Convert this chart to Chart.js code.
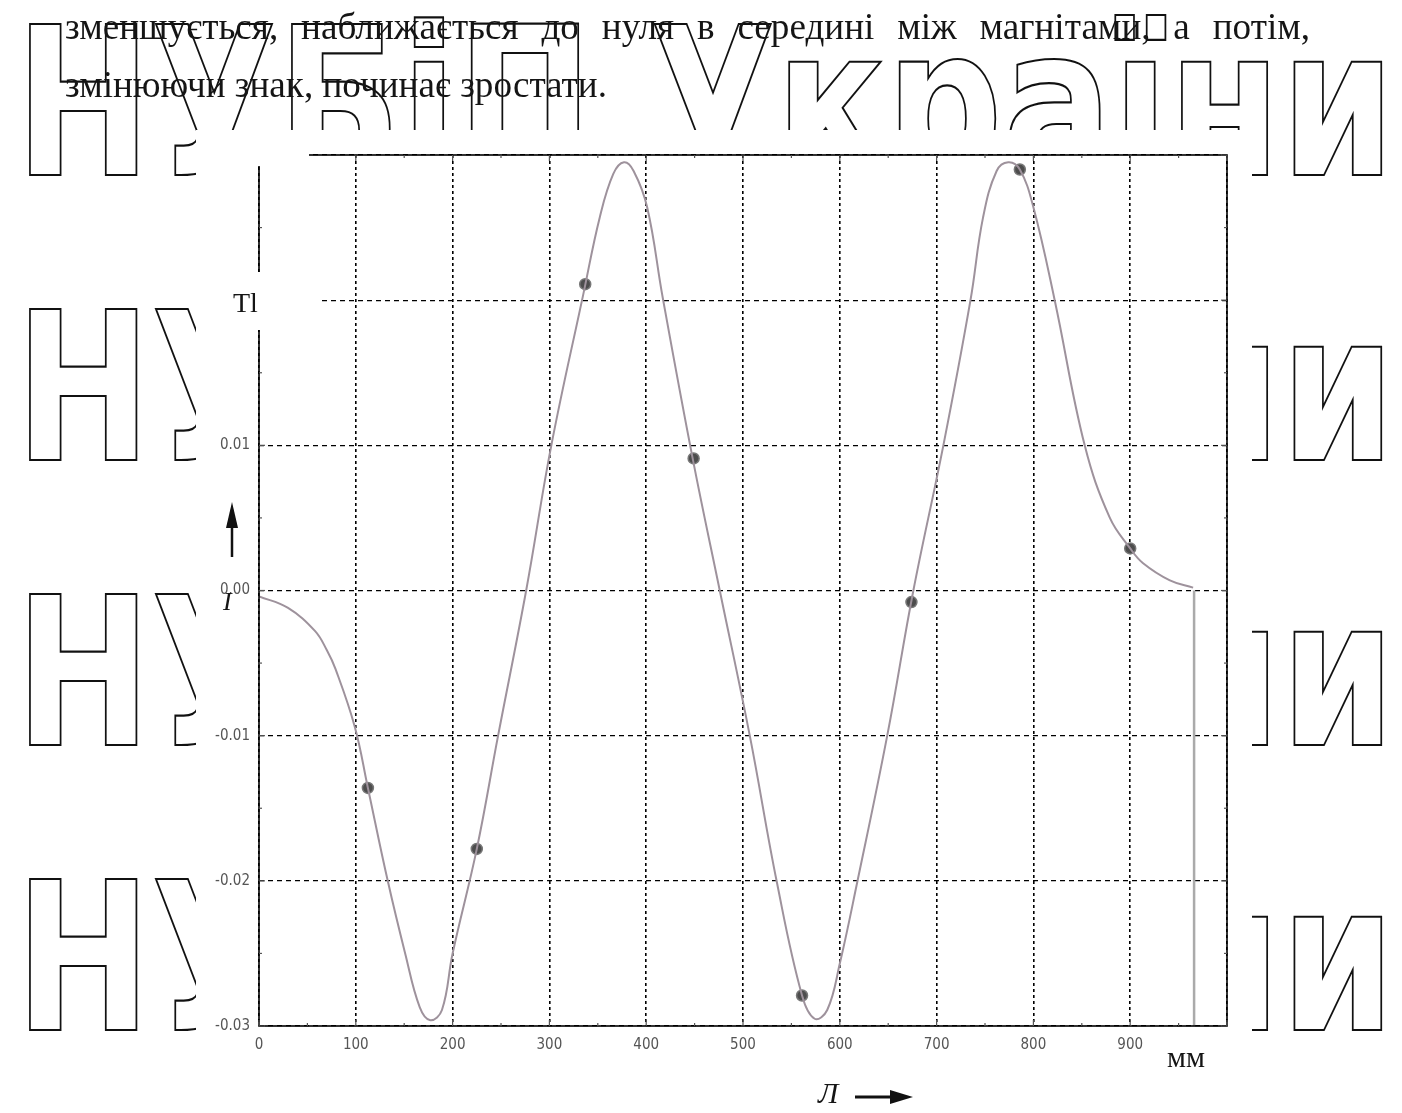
<!DOCTYPE html>
<html lang="uk">
<head>
<meta charset="utf-8">
<title>Індукція поля між магнітами</title>
<script src="https://cdn.jsdelivr.net/npm/chart.js@4.4.1/dist/chart.umd.min.js"></script>
<style>
body { margin: 0; background: #fff; }
#page { position: relative; width: 1402px; height: 1113px; overflow: hidden; }
#plot { position: absolute; left: 0; top: 0; }
.txt { position: absolute; color: #151515; font-family: "Liberation Serif", serif; white-space: nowrap; line-height: 1; }
.para { font-size: 38px; transform-origin: 0 0; }
#line1 { text-align: justify; text-align-last: justify; }
</style>
</head>
<body>
<div id="page">
  <canvas id="plot" width="1402" height="1113"></canvas>
  <div id="line1" class="txt para" style="left:65px; top:7px;">зменшується, наближається до нуля в середині між магнітами, а потім,</div>
  <div id="line2" class="txt para" style="left:65px; top:65px;">змінюючи знак, починає зростати.</div>
  <div class="txt" style="left:233px; top:289px; font-size:28px;">Tl</div>
  <div class="txt" style="left:223px; top:589px; font-size:26px; font-style:italic;">I</div>
  <div class="txt" style="left:1167px; top:1042px; font-size:30px;">мм</div>
  <div class="txt" style="left:818px; top:1078px; font-size:30px; font-style:italic;">Л</div>
</div>
<script>
// field along the gap, mm -> Tl
var curveX = [0, 30, 58, 70, 79, 99, 112.5, 133, 151, 166, 177, 189, 200, 225, 247, 276, 302, 335, 352, 366, 377, 387, 401, 417, 448, 476, 507, 535, 561, 574, 587, 600, 618, 649, 676, 707, 735, 748, 762, 774, 786, 800, 822, 853, 879, 900, 913, 941, 965];
var curveY = [-0.0004, -0.0012, -0.0028, -0.0041, -0.0054, -0.0094, -0.0136, -0.0200, -0.0250, -0.0287, -0.0296, -0.0289, -0.0250, -0.0178, -0.0100, 0.0000, 0.0100, 0.0204, 0.0257, 0.0287, 0.0295, 0.0289, 0.0264, 0.0202, 0.0091, 0.0000, -0.0100, -0.0201, -0.0279, -0.0295, -0.0289, -0.0257, -0.0201, -0.0100, 0.0000, 0.0100, 0.0200, 0.0257, 0.0289, 0.0295, 0.0290, 0.0264, 0.0200, 0.0100, 0.0050, 0.0029, 0.0019, 0.0007, 0.0002];

// measured points
var pointX = [112.5, 225, 337, 449, 561, 674, 786, 900];
var pointY = [-0.0136, -0.0178, 0.0211, 0.0091, -0.0279, -0.0008, 0.0290, 0.0029];

// end of the record
var endX = [966, 966];
var endY = [0, -0.03];

var xGrid = [0, 100, 200, 300, 400, 500, 600, 700, 800, 900, 1000];
var xTickLabels = ['0', '100', '200', '300', '400', '500', '600', '700', '800', '900', ''];
var yGrid = [-0.03, -0.02, -0.01, 0, 0.01, 0.02, 0.03];
var yTickLabels = ['-0.03', '-0.02', '-0.01', '0.00', '0.01', '', ''];

var markText = 'НУБіП України';
var markRows = [175, 460, 745, 1030];

function toPoints(xs, ys) {
    return xs.map(function (x, i) { return { x: x, y: ys[i] }; });
}

function labelFor(grid, labels, v) {
    for (var i = 0; i < grid.length; i++) {
        if (Math.abs(grid[i] - v) < 1e-9) return labels[i];
    }
    return '';
}

// stretch the paragraph lines to their column
(function () {
    var c = document.createElement('canvas').getContext('2d');
    c.font = '38px "Liberation Serif"';
    var w2 = c.measureText(document.getElementById('line2').textContent).width;
    var k = 542 / w2;
    var l1 = document.getElementById('line1');
    var l2 = document.getElementById('line2');
    l1.style.width = (1245 / k) + 'px';
    l1.style.transform = 'scaleX(' + k + ')';
    l2.style.transform = 'scaleX(' + k + ')';
})();

function line(ctx, x1, y1, x2, y2) {
    ctx.beginPath();
    ctx.moveTo(x1, y1);
    ctx.lineTo(x2, y2);
    ctx.stroke();
}

var pagePlugin = {
    id: 'page',
    beforeDraw: function (chart) {
        var ctx = chart.ctx;
        ctx.save();
        ctx.fillStyle = '#fff';
        ctx.fillRect(0, 0, chart.width, chart.height);

        // outlined watermark rows
        ctx.font = 'bold 206px "DejaVu Sans"';
        var w = ctx.measureText(markText).width;
        var sx = 1380 / w;
        ctx.strokeStyle = '#111';
        ctx.lineWidth = 2.2;
        markRows.forEach(function (y) {
            ctx.save();
            ctx.translate(15, y);
            ctx.scale(sx, 1);
            ctx.strokeText(markText, 0, 0);
            ctx.restore();
        });

        // plot sheet
        ctx.fillStyle = '#fff';
        ctx.fillRect(196, 130, 1056, 983);
        ctx.restore();
    },
    afterDraw: function (chart) {
        var ctx = chart.ctx;
        var a = chart.chartArea;
        var xs = chart.scales.x;
        var ys = chart.scales.y;
        ctx.save();

        // frame
        ctx.strokeStyle = '#000';
        ctx.lineWidth = 1.6;
        ctx.strokeRect(a.left, a.top, a.right - a.left, a.bottom - a.top);

        // inner ticks
        ctx.strokeStyle = '#555';
        ctx.lineWidth = 1.2;
        for (var v = 0; v <= 1000; v += 50) {
            var px = xs.getPixelForValue(v);
            var len = v % 100 === 0 ? 6 : 3;
            line(ctx, px, a.bottom, px, a.bottom - len);
            line(ctx, px, a.top, px, a.top + len);
        }
        for (var j = -6; j <= 6; j++) {
            var py = ys.getPixelForValue(j * 0.005);
            var ln = j % 2 === 0 ? 6 : 3;
            line(ctx, a.left, py, a.left + ln, py);
            line(ctx, a.right, py, a.right - ln, py);
        }

        // blank patches on the sheet
        ctx.fillStyle = '#fff';
        ctx.fillRect(200, 138, 109, 28);
        ctx.fillRect(228, 272, 93, 58);

        // axis arrows
        ctx.strokeStyle = '#111';
        ctx.fillStyle = '#111';
        ctx.lineWidth = 2.5;
        line(ctx, 232, 557, 232, 515);
        ctx.beginPath();
        ctx.moveTo(232, 502);
        ctx.lineTo(226, 528);
        ctx.lineTo(238, 528);
        ctx.closePath();
        ctx.fill();

        ctx.lineWidth = 3;
        line(ctx, 855, 1097, 898, 1097);
        ctx.beginPath();
        ctx.moveTo(913, 1097);
        ctx.lineTo(890, 1090);
        ctx.lineTo(890, 1104);
        ctx.closePath();
        ctx.fill();
        ctx.restore();
    }
};

var tickFont = { family: '"Liberation Sans Narrow", "DejaVu Sans Condensed", sans-serif', size: 15 };

new Chart(document.getElementById('plot'), {
    type: 'scatter',
    data: {
        datasets: [
            {
                data: toPoints(curveX, curveY),
                showLine: true,
                borderColor: 'rgb(158,146,156)',
                borderWidth: 2,
                pointRadius: 0,
                tension: 0.4
            },
            {
                data: toPoints(endX, endY),
                showLine: true,
                borderColor: '#aaa',
                borderWidth: 2.5,
                pointRadius: 0
            },
            {
                data: toPoints(pointX, pointY),
                showLine: false,
                pointRadius: 5.5,
                pointBackgroundColor: '#4d4d4d',
                pointBorderColor: '#777',
                pointBorderWidth: 1.5
            }
        ]
    },
    options: {
        responsive: false,
        animation: false,
        devicePixelRatio: 1,
        layout: { padding: { top: 155, right: 175, left: 0, bottom: 0 } },
        plugins: { legend: { display: false }, tooltip: { enabled: false } },
        scales: {
            x: {
                type: 'linear',
                min: 0,
                max: 1000,
                afterBuildTicks: function (s) { s.ticks = xGrid.map(function (v) { return { value: v }; }); },
                afterFit: function (s) { s.height = 87; },
                grid: { color: '#000', lineWidth: 1.6, drawTicks: false },
                border: { display: false, dash: [3, 3] },
                ticks: {
                    font: tickFont,
                    color: '#555',
                    padding: 10,
                    maxRotation: 0,
                    autoSkip: false,
                    callback: function (v) { return labelFor(xGrid, xTickLabels, v); }
                }
            },
            y: {
                type: 'linear',
                min: -0.03,
                max: 0.03,
                afterBuildTicks: function (s) { s.ticks = yGrid.map(function (v) { return { value: v }; }); },
                afterFit: function (s) { s.width = 259; },
                grid: { color: '#000', lineWidth: 1.3, drawTicks: false },
                border: { display: false, dash: [5, 4] },
                ticks: {
                    font: tickFont,
                    color: '#555',
                    padding: 9,
                    autoSkip: false,
                    callback: function (v) { return labelFor(yGrid, yTickLabels, v); }
                }
            }
        }
    },
    plugins: [pagePlugin]
});
</script>
</body>
</html>
